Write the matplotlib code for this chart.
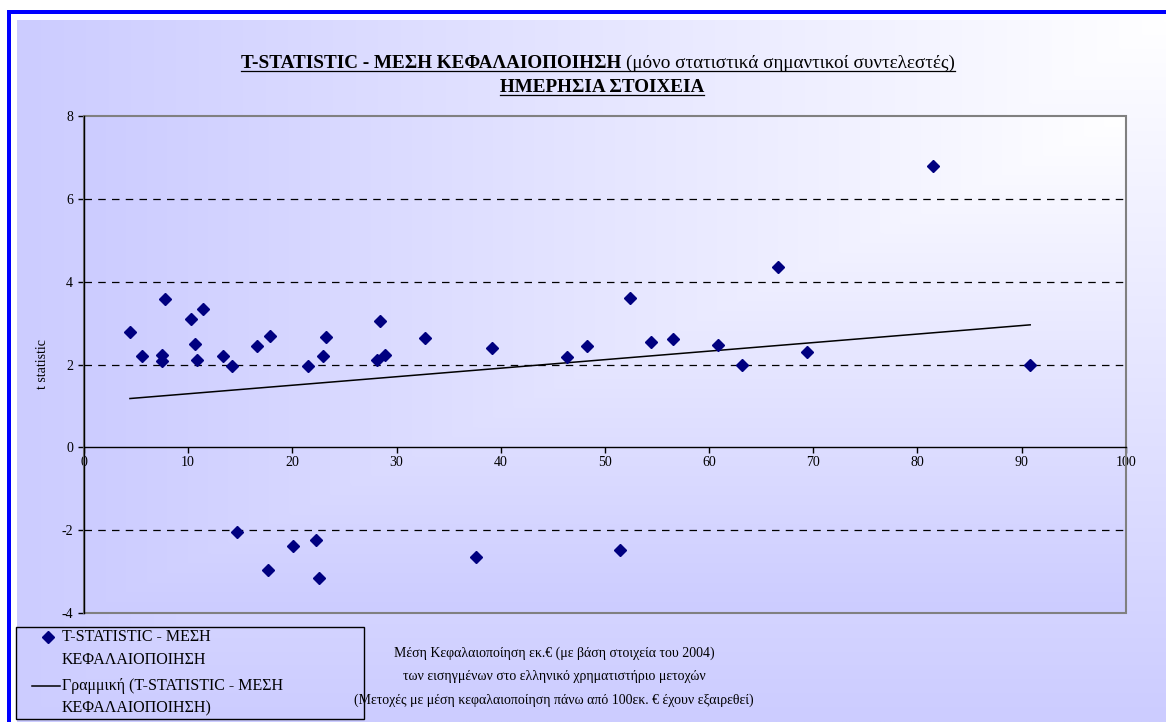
import numpy as np
import matplotlib
matplotlib.use('Agg')
from matplotlib import pyplot as plt, rcParams
from matplotlib.lines import Line2D
from matplotlib.patches import Rectangle

rcParams['font.family'] = ['Liberation Serif', 'DejaVu Serif']
rcParams['axes.unicode_minus'] = False

# μέση κεφαλαιοποίηση (εκ. €) και t statistic των στατιστικά σημαντικών συντελεστών
kefalaiopoiisi = [4.41, 5.59, 7.45, 7.48, 7.73, 10.23, 10.67, 10.86, 11.44, 13.36,
                  14.19, 14.67, 16.65, 17.7, 17.9, 20.07, 21.5, 22.24, 22.56, 22.94,
                  23.2, 28.12, 28.41, 28.86, 32.7, 37.65, 39.18, 46.4, 48.32, 51.5,
                  52.4, 54.46, 56.5, 60.9, 63.18, 66.6, 69.45, 81.46, 90.83]
t_stat = [2.78, 2.21, 2.23, 2.09, 3.59, 3.11, 2.49, 2.12, 3.35, 2.21,
          1.97, -2.05, 2.44, -2.97, 2.70, -2.39, 1.96, -2.23, -3.16, 2.21,
          2.67, 2.11, 3.06, 2.22, 2.65, -2.64, 2.39, 2.19, 2.45, -2.49,
          3.6, 2.55, 2.62, 2.46, 2.0, 4.36, 2.30, 6.79, 1.99]

x_ticks = list(range(0, 101, 10))
y_ticks = list(range(-4, 9, 2))
grid_y = [-2, 2, 4, 6]

lbl_series = ['T-STATISTIC - ΜΕΣΗ', 'ΚΕΦΑΛΑΙΟΠΟΙΗΣΗ']
lbl_trend = ['Γραμμική (T-STATISTIC - ΜΕΣΗ', 'ΚΕΦΑΛΑΙΟΠΟΙΗΣΗ)']
simeiosi = ['Μέση Κεφαλαιοποίηση εκ.€ (με βάση στοιχεία του 2004)',
            'των εισηγμένων στο ελληνικό χρηματιστήριο μετοχών',
            '(Μετοχές με μέση κεφαλαιοποίηση πάνω από 100εκ. € έχουν εξαιρεθεί)']

W, H = 1166, 722
LAV = np.array([204, 204, 255]) / 255.0
fig = plt.figure(figsize=(W / 100, H / 100), dpi=100)


def fx(px):
    return px / W


def fy(py):
    return 1 - py / H


def gradient(nx, ny):
    # λευκό στην πάνω δεξιά γωνία, λιλά προς τα έξω
    xx = np.linspace(1, 0, nx)[None, :]
    yy = np.linspace(0, 1, ny)[:, None]
    t = np.maximum(xx, yy)[:, :, None]
    return (1 - t) * np.ones(3) + t * LAV


# μπλε πλαίσιο
fig.add_artist(Rectangle((fx(7), fy(14)), 1 - fx(7), fy(10) - fy(14),
                         transform=fig.transFigure, color='#0000ff', lw=0))
fig.add_artist(Rectangle((fx(7), 0), fx(11) - fx(7), fy(10),
                         transform=fig.transFigure, color='#0000ff', lw=0))

# φόντο γραφήματος
bg = fig.add_axes([fx(17), 0, 1 - fx(17), fy(20)], zorder=-10)
bg.imshow(gradient(300, 200), aspect='auto', extent=(0, 1, 0, 1), interpolation='bilinear')
bg.axis('off')

ax = fig.add_axes([fx(84), fy(613), fx(1125.7) - fx(84), fy(116) - fy(613)])
ax.patch.set_alpha(0)
ax.imshow(gradient(300, 200), aspect='auto', extent=(0, 100, -4, 8),
          interpolation='bilinear', zorder=0)

for yv in grid_y:
    ax.axhline(yv, color='black', lw=0.9, ls=(0, (6, 5)), zorder=1)

ax.add_patch(Rectangle((0, 0), 1, 1, transform=ax.transAxes, fill=False,
                       ec='#808080', lw=1.5, clip_on=False, zorder=2))

ax.plot(kefalaiopoiisi, t_stat, 'D', color='#000080', ms=6.5, ls='none', zorder=4, clip_on=False)

# γραμμική τάση
coef = np.polyfit(kefalaiopoiisi, t_stat, 1)
xs = np.array([min(kefalaiopoiisi), max(kefalaiopoiisi)])
ax.plot(xs, np.polyval(coef, xs), color='black', lw=1.1, zorder=3)

ax.set_xlim(0, 100)
ax.set_ylim(-4, 8)
ax.set_xticks(x_ticks)
ax.set_yticks(y_ticks)
ax.spines['bottom'].set_position(('data', 0))
ax.spines['top'].set_visible(False)
ax.spines['right'].set_visible(False)
for s in ['bottom', 'left']:
    ax.spines[s].set_color('black')
    ax.spines[s].set_linewidth(1)
    ax.spines[s].set_zorder(3)
ax.tick_params(direction='out', length=4, width=1, labelsize=10, pad=2)
ax.tick_params(axis='y', pad=4)
ax.set_ylabel('t statistic', fontsize=10, labelpad=9)

# τίτλος με υπογράμμιση
r = fig.canvas.get_renderer()
fs_t = 13.8
t1a = fig.text(0, fy(68), 'T-STATISTIC - ΜΕΣΗ ΚΕΦΑΛΑΙΟΠΟΙΗΣΗ', fontsize=fs_t,
               fontweight='bold', va='baseline')
t1b = fig.text(0, fy(68), '(μόνο στατιστικά σημαντικοί συντελεστές)', fontsize=fs_t, va='baseline')
wa = t1a.get_window_extent(r).width
wb = t1b.get_window_extent(r).width
gap = 5
x0 = 598 - (wa + gap + wb) / 2
t1a.set_x(fx(x0))
t1b.set_x(fx(x0 + wa + gap))
fig.add_artist(Line2D([fx(x0), fx(x0 + wa + gap + wb)], [fy(71), fy(71)], color='black', lw=0.9))

t2 = fig.text(fx(602), fy(92), 'ΗΜΕΡΗΣΙΑ ΣΤΟΙΧΕΙΑ', fontsize=fs_t, fontweight='bold',
              va='baseline', ha='center')
w2 = t2.get_window_extent(r).width
fig.add_artist(Line2D([fx(602 - w2 / 2), fx(602 + w2 / 2)], [fy(95), fy(95)], color='black', lw=0.9))

# υπόμνημα
fig.add_artist(Rectangle((fx(16), fy(719)), fx(364) - fx(16), fy(627) - fy(719),
                         transform=fig.transFigure, fill=False, ec='black', lw=1))
fig.add_artist(Line2D([fx(48)], [fy(637)], marker='D', color='#000080', ms=6.5, ls='none'))
fig.add_artist(Line2D([fx(32), fx(60)], [fy(686), fy(686)], color='black', lw=1.1))
fs_l = 11.5
for yy, s in zip([637, 660], lbl_series):
    fig.text(fx(62), fy(yy), s, fontsize=fs_l, va='center')
for yy, s in zip([686, 708], lbl_trend):
    fig.text(fx(62), fy(yy), s, fontsize=fs_l, va='center')

for i, s in enumerate(simeiosi):
    fig.text(fx(554), fy(653 + i * 23.5), s, fontsize=10, ha='center', va='center')

plt.savefig('out.png', dpi=100)
